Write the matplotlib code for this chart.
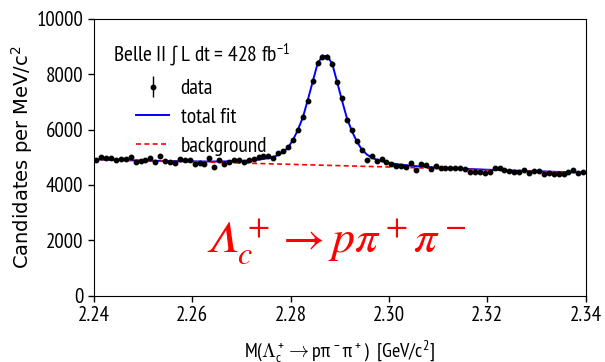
import numpy as np
import matplotlib
matplotlib.use('Agg')
import matplotlib.pyplot as plt

plt.rcParams['font.family'] = ['PT Sans Narrow', 'DejaVu Sans']
plt.rcParams['mathtext.fontset'] = 'custom'
plt.rcParams['mathtext.rm'] = 'PT Sans Narrow'
plt.rcParams['mathtext.it'] = 'PT Sans Narrow:italic'
plt.rcParams['mathtext.sf'] = 'PT Sans Narrow'

# bin centres, 1 MeV bins from 2.240 to 2.340 GeV
mass = np.round(2.2405 + 0.001 * np.arange(100), 4)

# candidates per bin
counts = [4915, 5012, 4976, 4976, 4915, 4952, 4952, 5012, 4843, 4855,
          4915, 4976, 4843, 5036, 4855, 4843, 4795, 4940, 4915, 4915,
          4746, 4795, 4771, 4976, 4650, 4891, 4746, 4819, 4891, 4915,
          4843, 4915, 4940, 5012, 5060, 5036, 4976, 5157, 5229, 5374,
          5616, 5978, 6461, 7041, 7742, 8418, 8635, 8635, 8370, 7717,
          7126, 6341, 5978, 5592, 5254, 4915, 5036, 4867, 4940, 4843,
          4746, 4698, 4698, 4650, 4795, 4529, 4746, 4722, 4577, 4674,
          4626, 4626, 4626, 4601, 4601, 4577, 4481, 4481, 4481, 4432,
          4457, 4626, 4626, 4529, 4505, 4481, 4457, 4553, 4432, 4505,
          4505, 4408, 4432, 4408, 4384, 4408, 4457, 4529, 4432, 4481]

# total fit evaluated at the bin centres
fit = [4923, 4918, 4914, 4909, 4904, 4901, 4896, 4892, 4887, 4883,
       4880, 4877, 4873, 4870, 4866, 4864, 4861, 4858, 4855, 4853,
       4852, 4850, 4849, 4848, 4848, 4850, 4851, 4854, 4858, 4863,
       4871, 4881, 4894, 4914, 4939, 4970, 5015, 5080, 5185, 5350,
       5626, 5991, 6436, 7061, 7726, 8382, 8657, 8652, 8367, 7702,
       7028, 6393, 5938, 5563, 5278, 5104, 4989, 4914, 4859, 4819,
       4785, 4755, 4732, 4712, 4695, 4681, 4667, 4654, 4643, 4632,
       4623, 4614, 4605, 4597, 4589, 4582, 4575, 4568, 4561, 4554,
       4549, 4542, 4536, 4530, 4525, 4520, 4514, 4509, 4503, 4498,
       4493, 4488, 4482, 4477, 4472, 4467, 4462, 4457, 4452, 4446]

bkg_mass = [2.24, 2.26, 2.28, 2.30, 2.32, 2.34]
bkg = [4920, 4840, 4745, 4650, 4545, 4440]

fig, ax = plt.subplots(figsize=(6.05, 3.62), dpi=100)
fig.subplots_adjust(left=0.155, right=0.968, top=0.948, bottom=0.183)

h_data = ax.errorbar(mass, counts, yerr=np.sqrt(counts), fmt='o', color='black',
                     markersize=3.2, elinewidth=1, capsize=0, label='data', zorder=3)
h_fit, = ax.plot(mass, fit, color='blue', lw=1.4, label='total fit', zorder=2)
h_bkg, = ax.plot(bkg_mass, bkg, color='red', ls='--', lw=1.2, dashes=(3, 2),
                 label='background', zorder=2)

ax.set_xlim(2.24, 2.34)
ax.set_ylim(0, 10000)
ax.set_xticks([2.24, 2.26, 2.28, 2.30, 2.32, 2.34])
ax.set_xticklabels(['2.24', '2.26', '2.28', '2.30', '2.32', '2.34'])
ax.set_yticks([0, 2000, 4000, 6000, 8000, 10000])
ax.tick_params(labelsize=15, length=4, width=1)

ax.set_xlabel(r'M($\Lambda_c^+ \rightarrow p\pi^-\pi^+$)  [GeV/$c^2$]',
              fontsize=14.5, labelpad=10)
ax.set_ylabel(r'Candidates per MeV/c$^2$', fontsize=14,
              family='DejaVu Sans', math_fontfamily='dejavusans', labelpad=1)

leg = ax.legend([h_data, h_fit, h_bkg], ['data', 'total fit', 'background'],
                loc='upper left', frameon=False, fontsize=15.5,
                title=r'Belle II $\int$ L dt = 428 fb$^{-1}$',
                title_fontsize=15.5, bbox_to_anchor=(0.0, 0.985),
                handlelength=1.5, handletextpad=0.55, labelspacing=0.45)

ax.text(2.2626, 1570, '$\U0001D6EC_c^+ \\rightarrow p\\pi^+\\pi^-$',
        color='red', fontsize=33, math_fontfamily='stix', va='baseline')

fig.savefig('out.png', dpi=100)
